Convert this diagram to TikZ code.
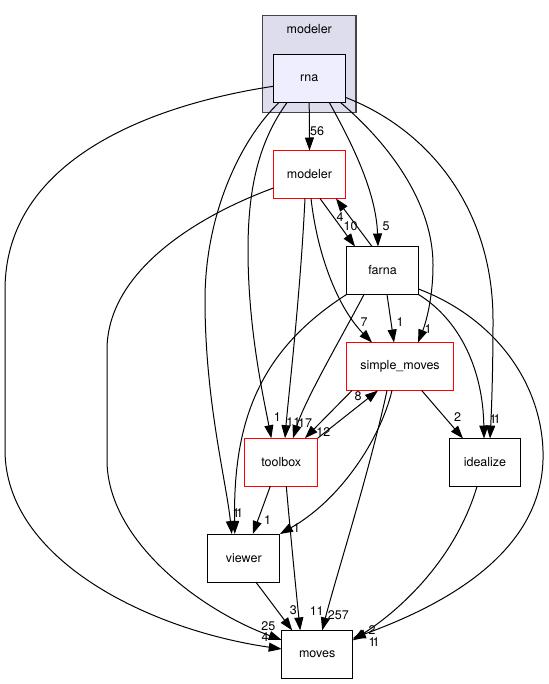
\documentclass[tikz,border=0pt]{standalone}
\usepackage{fontspec}
\setmainfont{TeX Gyre Heros}
\usetikzlibrary{arrows.meta,calc}
\definecolor{clfill}{HTML}{DDDDEE}
\definecolor{rnafill}{HTML}{EEEEFF}
\definecolor{clline}{HTML}{444444}
\begin{document}
\begin{tikzpicture}[x=1pt,y=-1pt,
  every node/.style={font=\fontsize{12.5}{14}\selectfont},
  dbox/.style={draw=black,line width=1pt,fill=white,minimum height=48pt,minimum width=72pt,inner sep=0pt,outer sep=0pt},
  redbox/.style={dbox,draw=red},
  edge/.style={draw=black,line width=1pt,-{Triangle[length=13pt,width=9pt]}},
  lbl/.style={inner sep=0pt,font=\fontsize{12.5}{14}\selectfont}]
\useasboundingbox (0,0) rectangle (548,684);
% cluster
\path[fill=clfill,draw=clline,line width=1.2pt] (262.7,15.5) rectangle (356,112.7);
\node[lbl] (cltitle) at (309.3,29) {modeler};
% nodes
\node[dbox,fill=rnafill] (rna) at (309.2,78.3) {rna};
\node[redbox] (modeler) at (309.5,174.5) {modeler};
\node[dbox] (farna) at (382.5,270.5) {farna};
\node[redbox,minimum width=106.6pt] (simple) at (400,366.5) {simple\_moves};
\node[redbox,minimum width=72.7pt] (toolbox) at (281.3,462.2) {toolbox};
\node[dbox,minimum width=71.4pt] (idealize) at (485,462.5) {idealize};
\node[dbox,minimum width=72.3pt] (viewer) at (243.8,558) {viewer};
\node[dbox,minimum width=71pt] (moves) at (317.2,654.4) {moves};
% edges from rna
\draw[edge] (rna.south) -- (modeler.north);
\draw[edge] ([xshift=-30pt]rna.south) .. controls (240,140) and (205,215) .. (205,300)
   .. controls (205,400) and (226,480) .. ([xshift=-12pt]viewer.north);
\draw[edge] ([xshift=-22pt]rna.south) .. controls (260,140) and (248,185) .. (248,250)
   .. controls (248,330) and (264,400) .. ([xshift=-10pt]toolbox.north);
\draw[edge] ([xshift=20pt]rna.south) .. controls (350,140) and (376,190) .. ([xshift=-4.5pt]farna.north);
\draw[edge] ([xshift=31pt]rna.south) .. controls (385,140) and (433,200) .. (433,265)
   .. controls (433,300) and (425,325) .. ([xshift=18pt]simple.north);
\draw[edge] ([yshift=-19pt]rna.east) .. controls (430,130) and (493,210) .. (493,320)
   .. controls (493,380) and (491,420) .. ([xshift=5pt]idealize.north);
\draw[edge] ([yshift=-8pt]rna.west) .. controls (150,105) and (5,160) .. (5,290) -- (5,450)
   .. controls (5,560) and (150,630) .. ([yshift=5.4pt]moves.west);
% edges from modeler
\draw[edge] ([yshift=-13.5pt]modeler.west) .. controls (200,215) and (107,270) .. (107,350) -- (107,460)
   .. controls (107,540) and (200,610) .. ([yshift=14.4pt]moves.west);
\draw[edge] ([xshift=10.5pt]modeler.south) -- ([xshift=-27.5pt]farna.north);
\draw[edge] ([xshift=1.5pt]modeler.south) .. controls (318,260) and (340,310) .. ([xshift=-28pt]simple.north);
\draw[edge] ([xshift=-4.5pt]modeler.south) .. controls (300,300) and (288,400) .. ([xshift=3.7pt]toolbox.north);
% edges from farna
\draw[edge] ([xshift=-10.5pt]farna.north) -- ([xshift=26.5pt]modeler.south);
\draw[edge] ([xshift=4.5pt]farna.south) -- ([xshift=-6pt]simple.north);
\draw[edge] ([xshift=-18.5pt]farna.south) .. controls (340,340) and (305,400) .. ([xshift=11.7pt]toolbox.north);
\draw[edge] (farna.south west) .. controls (260,350) and (233,420) .. ([xshift=-9pt]viewer.north);
\draw[edge] (farna.south east) .. controls (460,320) and (483,370) .. ([xshift=-1pt]idealize.north);
\draw[edge] ([yshift=-18.5pt]farna.east) .. controls (500,320) and (545,390) .. (543,460)
   .. controls (540,560) and (430,610) .. ([yshift=16pt]moves.east);
% edges from simple_moves
\draw[edge] ([xshift=-48pt]simple.south) -- ([xshift=23.7pt]toolbox.north);
\draw[edge] (toolbox.north east) -- ([xshift=-22pt]simple.south);
\draw[edge] ([xshift=21.7pt]simple.south) -- ([xshift=-22pt]idealize.north);
\draw[edge] ([xshift=-8pt]simple.south) .. controls (380,440) and (340,500) .. (viewer.north east);
\draw[edge] ([xshift=-13pt]simple.south) .. controls (370,470) and (335,580) .. ([xshift=5pt]moves.north);
% edges from toolbox, viewer, idealize
\draw[edge] ([xshift=-11pt]toolbox.south) -- ([xshift=9pt]viewer.north);
\draw[edge] ([xshift=5pt]toolbox.south) .. controls (291,540) and (297,600) .. ([xshift=-17pt]moves.north);
\draw[edge] ([xshift=12pt]viewer.south) -- ([xshift=-25pt]moves.north);
\draw[edge] ([xshift=-8pt]idealize.south) .. controls (455,560) and (400,610) .. ([yshift=14pt]moves.east);
% labels
\node[lbl] (l1) at (317,131) {56};
\node[lbl] (l2) at (340,217) {4};
\node[lbl] (l3) at (350.5,226) {10};
\node[lbl] (l4) at (386,226) {5};
\node[lbl] (l5) at (364,322) {7};
\node[lbl] (l6) at (400,322) {1};
\node[lbl] (l7) at (428,329) {1};
\node[lbl] (l8) at (277.3,416.7) {1};
\node[lbl] (l9) at (293.3,421.7) {11};
\node[lbl] (l10) at (305,423.3) {17};
\node[lbl] (l11) at (323.3,431.7) {12};
\node[lbl] (l12) at (358,396) {8};
\node[lbl] (l13) at (457.7,417) {2};
\node[lbl] (l14) at (493,419) {1};
\node[lbl] (l15) at (497,419.5) {1};
\node[lbl] (l16) at (236,513) {1};
\node[lbl] (l17) at (239.5,513) {1};
\node[lbl] (l18) at (267.7,520) {1};
\node[lbl] (l19) at (296.7,528.3) {1};
\node[lbl] (l20) at (293.3,610.5) {3};
\node[lbl] (l21) at (316.7,611) {11};
\node[lbl] (l22) at (338.3,615) {257};
\node[lbl] (l23) at (268.3,625.7) {25};
\node[lbl] (l24) at (265,637.3) {4};
\node[lbl] (l25) at (372,630) {2};
\node[lbl] (l26) at (372,642) {1};
\node[lbl] (l27) at (376,642) {1};
\end{tikzpicture}
\end{document}
